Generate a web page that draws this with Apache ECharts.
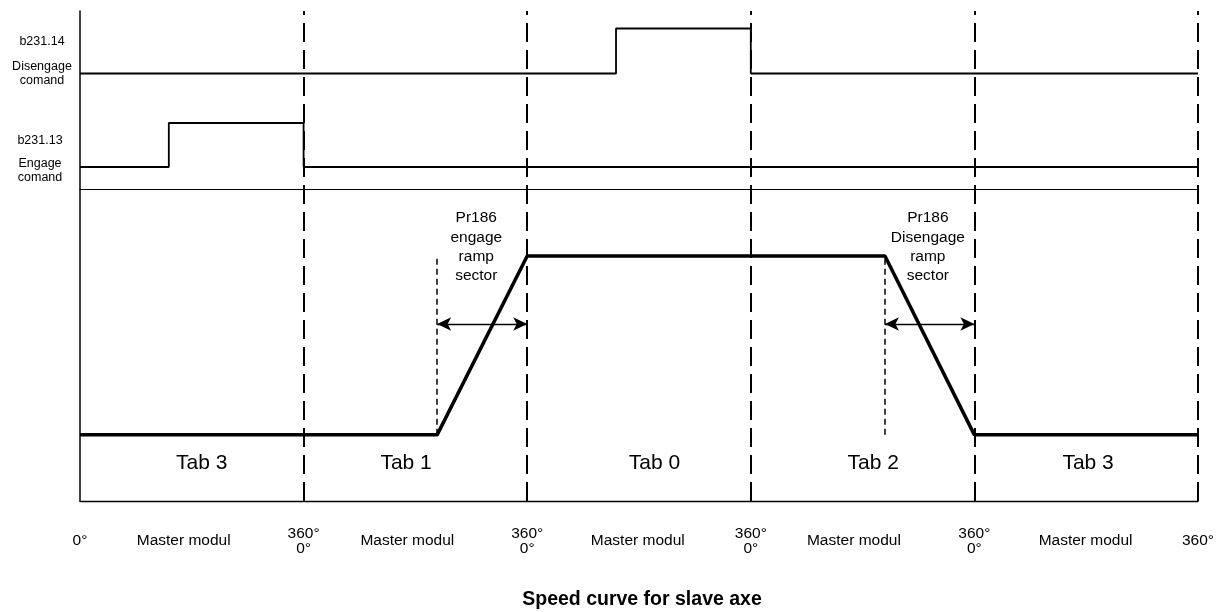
<!DOCTYPE html>
<html>
<head>
<meta charset="utf-8">
<script src="https://cdn.jsdelivr.net/npm/echarts@6/dist/echarts.min.js"></script>
<style>
  html, body { margin: 0; background: #fff; }
  #chart { width: 1223px; height: 612px; }
</style>
</head>
<body>
<div id="chart"></div>
<script>
// master angle in degrees, 5 turns of 360
const degreeTicks = [0, 360, 720, 1080, 1440, 1800];
const degreeLabels = ["0°", "360°\n0°", "360°\n0°", "360°\n0°", "360°\n0°", "360°"];
// command bits (0 / 1) as [degree, level] change points
const disengageCmd = [[0, 0], [863, 1], [1080, 0], [1800, 0]];
const engageCmd = [[0, 0], [143, 1], [360, 0], [1800, 0]];
// slave speed in % of synchronous speed
const slaveSpeed = [[0, 0], [575, 0], [720, 100], [1296, 100], [1440, 0], [1800, 0]];
const engageRamp = [575, 720];
const disengageRamp = [1296, 1440];
const tabNames = ["Tab 3", "Tab 1", "Tab 0", "Tab 2", "Tab 3"];

// where the texts sit (degrees / speed units)
const tabPos = [196, 525, 925, 1277, 1623];
const masterPos = [167, 527, 898, 1246, 1619];

const font = "Liberation Sans, Arial, sans-serif";
const black = "#000";

const chart = echarts.init(document.getElementById("chart"));

const hiddenX = (idx, extra) => Object.assign({
  type: "value", gridIndex: idx, min: 0, max: 1800,
  axisLine: { show: false }, axisTick: { show: false },
  axisLabel: { show: false }, splitLine: { show: false }
}, extra || {});

const rampMarks = (ramp, y) => [
  [
    { coord: [ramp[0], 0], symbol: "none", lineStyle: { type: [6, 4], width: 1.5 } },
    { coord: [ramp[0], 99], symbol: "none" }
  ],
  [
    { coord: [ramp[0], y], symbol: "arrow" },
    { coord: [ramp[1], y], symbol: "arrow" }
  ]
];

chart.setOption({
  animation: false,
  title: {
    text: "Speed curve for slave axe",
    left: 637, top: 585, textAlign: "center",
    textStyle: { fontFamily: font, fontSize: 19.5, fontWeight: "bold", color: black }
  },
  grid: [
    { left: 80, right: 25, top: 11, height: 490 },   // frame
    { left: 80, right: 25, top: 6, height: 90 },     // disengage
    { left: 80, right: 25, top: 101, height: 88 },   // engage
    { left: 80, right: 25, top: 189, height: 312 }   // speed
  ],
  xAxis: [
    {
      type: "value", gridIndex: 0, min: 0, max: 1800, interval: 360,
      axisLine: { show: true, onZero: false, lineStyle: { color: black, width: 1.3 } },
      axisTick: { show: false }, splitLine: { show: false },
      axisLabel: {
        margin: 40, verticalAlign: "middle", lineHeight: 15,
        fontFamily: font, fontSize: 15.5, color: black,
        formatter: (v) => degreeLabels[degreeTicks.indexOf(v)]
      }
    },
    hiddenX(1),
    hiddenX(2, { axisLine: { show: true, onZero: false, lineStyle: { color: black, width: 1.1 } } }),
    hiddenX(3, {
      axisLabel: {
        show: true, customValues: masterPos, margin: 40, verticalAlign: "middle",
        fontFamily: font, fontSize: 15.5, color: black,
        formatter: () => "Master modul"
      }
    })
  ],
  yAxis: [
    {
      type: "value", gridIndex: 0, min: 0, max: 1,
      axisLine: { show: true, lineStyle: { color: black, width: 1.5 } },
      axisTick: { show: false }, axisLabel: { show: false }, splitLine: { show: false }
    },
    {
      type: "value", gridIndex: 1, min: -0.5, max: 1.5,
      axisLine: { show: false }, axisTick: { show: false }, splitLine: { show: false },
      axisLabel: {
        customValues: [0, 0.7], align: "center", margin: 38, lineHeight: 14,
        fontFamily: font, fontSize: 12.5, color: black,
        formatter: (v) => (v === 0 ? "Disengage\ncomand" : "b231.14")
      }
    },
    {
      type: "value", gridIndex: 2, min: -0.5, max: 1.5,
      axisLine: { show: false }, axisTick: { show: false }, splitLine: { show: false },
      axisLabel: {
        customValues: [-0.09, 0.59], align: "center", margin: 40, lineHeight: 14,
        fontFamily: font, fontSize: 12.5, color: black,
        formatter: (v) => (v < 0 ? "Engage\ncomand" : "b231.13")
      }
    },
    {
      type: "value", gridIndex: 3, min: -37, max: 137.5,
      axisLine: { show: false }, axisTick: { show: false },
      axisLabel: { show: false }, splitLine: { show: false }
    }
  ],
  series: [
    {
      name: "turns", type: "line", xAxisIndex: 0, yAxisIndex: 0, data: [],
      markLine: {
        silent: true, symbol: "none", label: { show: false },
        lineStyle: { color: black, width: 2, type: [19, 8] },
        data: degreeTicks.slice(1).map((v) => ({ xAxis: v }))
      }
    },
    {
      name: "disengage", type: "line", step: "end", xAxisIndex: 1, yAxisIndex: 1,
      data: disengageCmd, symbol: "none", silent: true,
      lineStyle: { color: black, width: 1.8 }
    },
    {
      name: "engage", type: "line", step: "end", xAxisIndex: 2, yAxisIndex: 2,
      data: engageCmd, symbol: "none", silent: true,
      lineStyle: { color: black, width: 1.8 }
    },
    {
      name: "speed", type: "line", xAxisIndex: 3, yAxisIndex: 3,
      data: slaveSpeed, symbol: "none", silent: true,
      lineStyle: { color: black, width: 3.5 },
      markLine: {
        silent: true, symbolSize: [10, 14], label: { show: false },
        lineStyle: { color: black, width: 1.3, type: "solid" },
        data: rampMarks(engageRamp, 62).concat(rampMarks(disengageRamp, 62))
      }
    },
    {
      name: "tabs", type: "scatter", xAxisIndex: 3, yAxisIndex: 3,
      symbolSize: 0, silent: true, itemStyle: { opacity: 1, color: black },
      label: {
        show: true, position: "inside", formatter: "{b}",
        fontFamily: font, fontSize: 21, color: black
      },
      data: tabNames.map((n, i) => ({ name: n, value: [tabPos[i], -16] }))
    },
    {
      name: "notes", type: "scatter", xAxisIndex: 3, yAxisIndex: 3,
      symbolSize: 0, silent: true, itemStyle: { opacity: 1, color: black },
      label: {
        show: true, position: "inside", formatter: "{b}", lineHeight: 19.3,
        fontFamily: font, fontSize: 15.5, color: black
      },
      data: [
        { name: "Pr186\nengage\nramp\nsector", value: [638, 105] },
        { name: "Pr186\nDisengage\nramp\nsector", value: [1365, 105] }
      ]
    }
  ]
});
</script>
</body>
</html>
